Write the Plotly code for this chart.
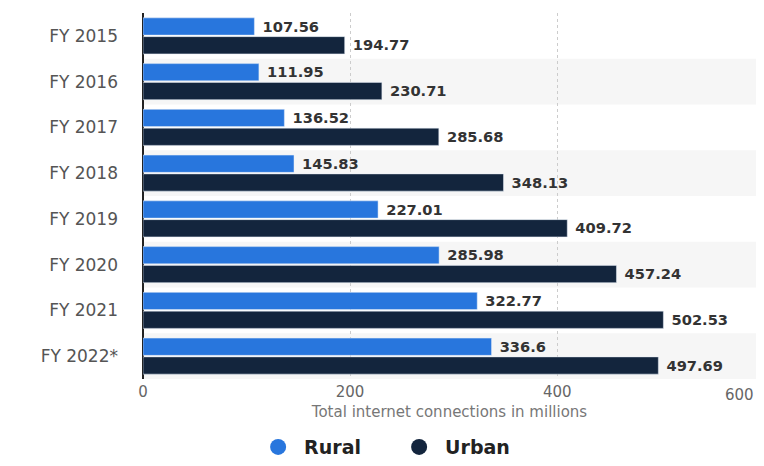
import plotly.graph_objects as go

years = ["FY 2015", "FY 2016", "FY 2017", "FY 2018", "FY 2019", "FY 2020", "FY 2021", "FY 2022*"]
rural = [107.56, 111.95, 136.52, 145.83, 227.01, 285.98, 322.77, 336.6]
urban = [194.77, 230.71, 285.68, 348.13, 409.72, 457.24, 502.53, 497.69]
x_ticks = [0, 200, 400]

RURAL_C = "#2876dd"
URBAN_C = "#13253d"
FONT = "DejaVu Sans"

fig = go.Figure()
for name, vals, col in [("Rural", rural, RURAL_C), ("Urban", urban, URBAN_C)]:
    fig.add_trace(go.Bar(
        y=years, x=vals, orientation="h", name=name, marker_color=col,
        text=[" " + f"{v:g}" for v in vals], textposition="outside",
        textfont=dict(family=FONT, size=17, color="#333333", weight="bold"),
        cliponaxis=False, showlegend=False, hoverinfo="skip",
    ))
    fig.add_trace(go.Scatter(
        x=[None], y=[None], mode="markers", name=name,
        marker=dict(symbol="circle", size=20, color=col), showlegend=True,
    ))

shapes = []
for i in range(len(years)):
    if i % 2 == 1:
        shapes.append(dict(type="rect", xref="paper", x0=0, x1=1, yref="y",
                           y0=i - 0.5, y1=i + 0.5, fillcolor="#f6f6f6",
                           line_width=0, layer="below"))

fig.update_layout(
    width=748, height=450,
    margin=dict(l=135, r=0, t=5, b=79, autoexpand=False),
    paper_bgcolor="white", plot_bgcolor="white",
    barmode="group", bargap=0.18, bargroupgap=0.08,
    shapes=shapes,
    font=dict(family=FONT, color="#555555"),
    xaxis=dict(range=[0, 592], tickvals=x_ticks, showgrid=True,
               gridcolor="#cccccc", griddash="dot", gridwidth=1,
               zeroline=True, zerolinecolor="#222222", zerolinewidth=2,
               tickfont=dict(size=15, color="#666666"), ticks="",
               ticklabelstandoff=2,
               title=dict(text="Total internet connections in millions",
                          font=dict(size=15, color="#777777"), standoff=6)),
    yaxis=dict(autorange="reversed", tickfont=dict(size=17, color="#555555"),
               ticks="", ticklabelstandoff=24, showgrid=False),
    legend=dict(orientation="h", x=0.178, xanchor="left", y=-0.186, yanchor="middle",
                font=dict(size=19, color="#222222", weight="bold"),
                itemwidth=42, entrywidth=84, entrywidthmode="pixels",
                itemsizing="trace"),
    annotations=[dict(text="600", xref="paper", yref="paper", x=1.0, y=0, yshift=-16,
                      xanchor="right", yanchor="middle", showarrow=False,
                      font=dict(family=FONT, size=15, color="#666666"))],
)

fig.write_html("out.html")
